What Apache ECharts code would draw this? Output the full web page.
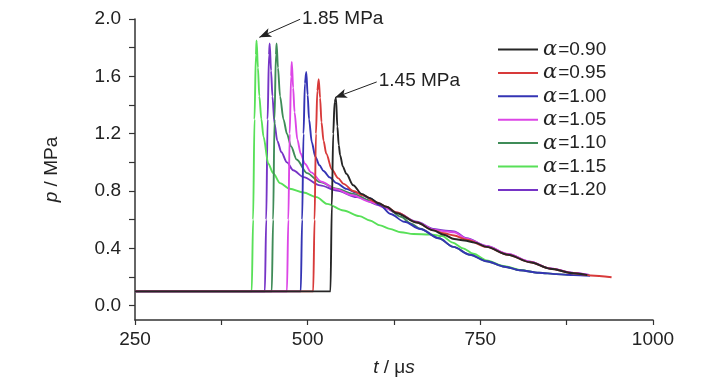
<!DOCTYPE html>
<html><head><meta charset="utf-8">
<script src="https://cdn.jsdelivr.net/npm/echarts@6/dist/echarts.min.js"></script>
<style>html,body{margin:0;padding:0;background:#fff}#c{width:728px;height:390px}</style>
</head><body><div id="c"></div>
<script>
const alphas = ['0.90','0.95','1.00','1.05','1.10','1.15','1.20'];
const colors = ['#262626','#d83a3a','#3434b4','#dc46e6','#3f8c58','#58e058','#7634c6'];

const s090 = [[250,0.1],[533,0.1],[535,0.7],[537,1.2],[539,1.42],[541,1.45],[543,1.25],[545,1.12],[547,1.05],[551,0.97],[556,0.92],[566,0.84],[578,0.78],[590,0.75],[603,0.715],[614,0.69],[629,0.645],[658,0.58],[682,0.525],[697,0.495],[712,0.465],[727,0.455],[742,0.44],[759,0.41],[790,0.355],[822,0.303],[851,0.258],[885,0.226],[905,0.213]];
const s095 = [[250,0.1],[508,0.1],[510,0.6],[512,1.2],[514,1.5],[516,1.58],[518,1.45],[520,1.28],[523,1.15],[527,1.06],[535,0.95],[544,0.89],[552,0.85],[566,0.8],[580,0.77],[600,0.72],[614,0.69],[629,0.65],[658,0.58],[682,0.525],[697,0.505],[712,0.49],[730,0.46],[759,0.41],[790,0.355],[822,0.303],[851,0.258],[885,0.226],[910,0.21],[940,0.198]];
const s100 = [[250,0.1],[490,0.1],[492,0.6],[494,1.2],[496,1.55],[498,1.63],[500,1.47],[502,1.3],[506,1.14],[511,1.04],[517,0.98],[523,0.94],[532,0.895],[542,0.855],[556,0.815],[570,0.79],[590,0.75],[605,0.7],[620,0.64],[640,0.585],[663,0.535],[690,0.47],[711,0.41],[735,0.355],[759,0.31],[785,0.272],[807,0.247],[835,0.23],[860,0.22],[885,0.213],[909,0.208]];
const s105 = [[250,0.1],[470,0.1],[472,0.6],[474,1.2],[476,1.6],[477,1.7],[479,1.52],[481,1.35],[485,1.16],[490,1.06],[496,0.99],[505,0.93],[520,0.865],[540,0.815],[565,0.77],[590,0.725],[614,0.68],[629,0.648],[658,0.583],[682,0.53],[697,0.52],[712,0.512],[730,0.468],[759,0.415],[790,0.36],[822,0.306],[851,0.26],[885,0.228],[905,0.216]];
const s110 = [[250,0.1],[448,0.1],[450,0.6],[452,1.3],[454,1.75],[455,1.83],[457,1.66],[460,1.46],[465,1.3],[470,1.2],[476,1.11],[484,1.02],[499,0.925],[518,0.862],[542,0.816],[566,0.78],[590,0.734],[614,0.685],[635,0.62],[650,0.572],[663,0.537],[690,0.47],[711,0.41],[735,0.355],[759,0.31],[785,0.272],[807,0.247],[835,0.23],[860,0.22],[878,0.215]];
const s115 = [[250,0.1],[419,0.1],[421,0.6],[423,1.3],[425,1.75],[426,1.85],[428,1.66],[430,1.46],[433,1.3],[436,1.18],[443,0.99],[450,0.925],[460,0.855],[474,0.816],[494,0.79],[513,0.757],[528,0.71],[552,0.664],[575,0.625],[590,0.594],[605,0.56],[619,0.536],[635,0.512],[653,0.5],[677,0.497],[695,0.485],[710,0.44],[725,0.4],[740,0.362],[759,0.316],[785,0.276],[807,0.25],[824,0.236]];
const s120 = [[250,0.1],[438,0.1],[440,0.6],[442,1.3],[444,1.75],[445,1.83],[447,1.64],[449,1.46],[452,1.27],[456,1.15],[462,1.07],[470,1.0],[479,0.945],[494,0.897],[518,0.839],[542,0.804],[571,0.757],[605,0.7],[629,0.648],[658,0.585],[682,0.535],[697,0.525],[712,0.518],[730,0.47],[759,0.416],[790,0.36],[822,0.306],[851,0.26],[885,0.228],[908,0.214]];
const seriesData = [s090, s095, s100, s105, s110, s115, s120];

const xTicks = [250,375,500,625,750,875,1000];
const xLabels = [250,500,750,1000];
const yTicks = [0,0.2,0.4,0.6,0.8,1.0,1.2,1.4,1.6,1.8,2.0];
const yLabels = [0,0.4,0.8,1.2,1.6,2.0];

const annTexts = ['1.85 MPa','1.45 MPa'];
const annTails = [[489,1.998],[600,1.561]];
const annTips = [[430,1.872],[539.6,1.452]];

const FONT = '"Liberation Sans", Arial, sans-serif';
const chart = echarts.init(document.getElementById('c'), null, {renderer:'canvas'});

const series = seriesData.map((d,i)=>({
  name: 'α=' + alphas[i],
  type: 'line',
  data: d,
  symbol: 'none',
  showSymbol: false,
  smooth: 0.3,
  smoothMonotone: 'x',
  lineStyle: {color: colors[i], width: 1.9},
  itemStyle: {color: colors[i]},
  emphasis: {disabled: true},
  z: 2 + (6 - i)
}));

series[0].markLine = {
  silent: true,
  symbol: ['none','arrow'],
  symbolSize: [7, 12],
  label: {show: false},
  lineStyle: {color: '#222', width: 1, type: 'solid'},
  itemStyle: {color: '#222'},
  emphasis: {disabled: true},
  animation: false,
  data: annTails.map((t,i)=>[{coord: t}, {coord: annTips[i]}])
};

chart.setOption({
  animation: false,
  backgroundColor: '#fff',
  grid: {left: 135, right: 75, top: 19, bottom: 70, outerBoundsMode: 'none', containLabel: false},
  legend: {
    orient: 'vertical', left: 493, top: 34,
    icon: 'rect',
    itemWidth: 40, itemHeight: 2, itemGap: 2.4,
    selectedMode: false,
    formatter: n => '{a|α}{b|' + n.slice(1) + '}',
    textStyle: {
      color: '#222', fontSize: 19, lineHeight: 20, fontFamily: FONT,
      rich: {
        a: {fontStyle: 'italic', fontFamily: '"DejaVu Serif", serif', fontSize: 21, color: '#222', padding: [0,1,0,0]},
        b: {fontSize: 19, fontFamily: FONT, color: '#222'}
      }
    },
    data: seriesData.map((d,i)=>'α=' + alphas[i])
  },
  xAxis: {
    type: 'value', min: 250, max: 1000, interval: 125,
    name: '{i|t} / μ{i|s}', nameLocation: 'middle', nameGap: 38,
    nameTextStyle: {fontSize: 19, color: '#222', fontFamily: FONT,
      rich: {i: {fontStyle: 'italic', fontSize: 19, color: '#222', fontFamily: FONT}}},
    axisLine: {show: true, onZero: false, lineStyle: {color: '#333', width: 1.5}},
    axisTick: {show: true, length: 5, customValues: xTicks, lineStyle: {color: '#333', width: 1.2}},
    axisLabel: {customValues: xLabels, formatter: v => String(v), fontSize: 19, color: '#222', fontFamily: FONT, margin: 10},
    splitLine: {show: false}
  },
  yAxis: {
    type: 'value', min: -0.1, max: 2.0,
    name: '{i|p} / MPa', nameLocation: 'middle', nameGap: 74, nameRotate: 90,
    nameTextStyle: {fontSize: 19, color: '#222', fontFamily: FONT,
      rich: {i: {fontStyle: 'italic', fontSize: 19, color: '#222', fontFamily: FONT}}},
    axisLine: {show: true, onZero: false, lineStyle: {color: '#333', width: 1.5}},
    axisTick: {show: true, length: 6, customValues: yTicks, lineStyle: {color: '#333', width: 1.2}},
    axisLabel: {customValues: yLabels, formatter: v => v.toFixed(1), fontSize: 19, color: '#222', fontFamily: FONT, margin: 14},
    splitLine: {show: false}
  },
  series: series
});

const graphics = annTexts.map((txt,i)=>{
  const p = chart.convertToPixel({gridIndex: 0}, annTails[i]);
  return {
    type: 'text', x: p[0] + 2, y: p[1] - 1, z: 100,
    style: {text: txt, fontSize: 19, fill: '#222', fontFamily: FONT, textAlign: 'left', textVerticalAlign: 'middle'}
  };
});
chart.setOption({graphic: graphics});
</script>
</body></html>
